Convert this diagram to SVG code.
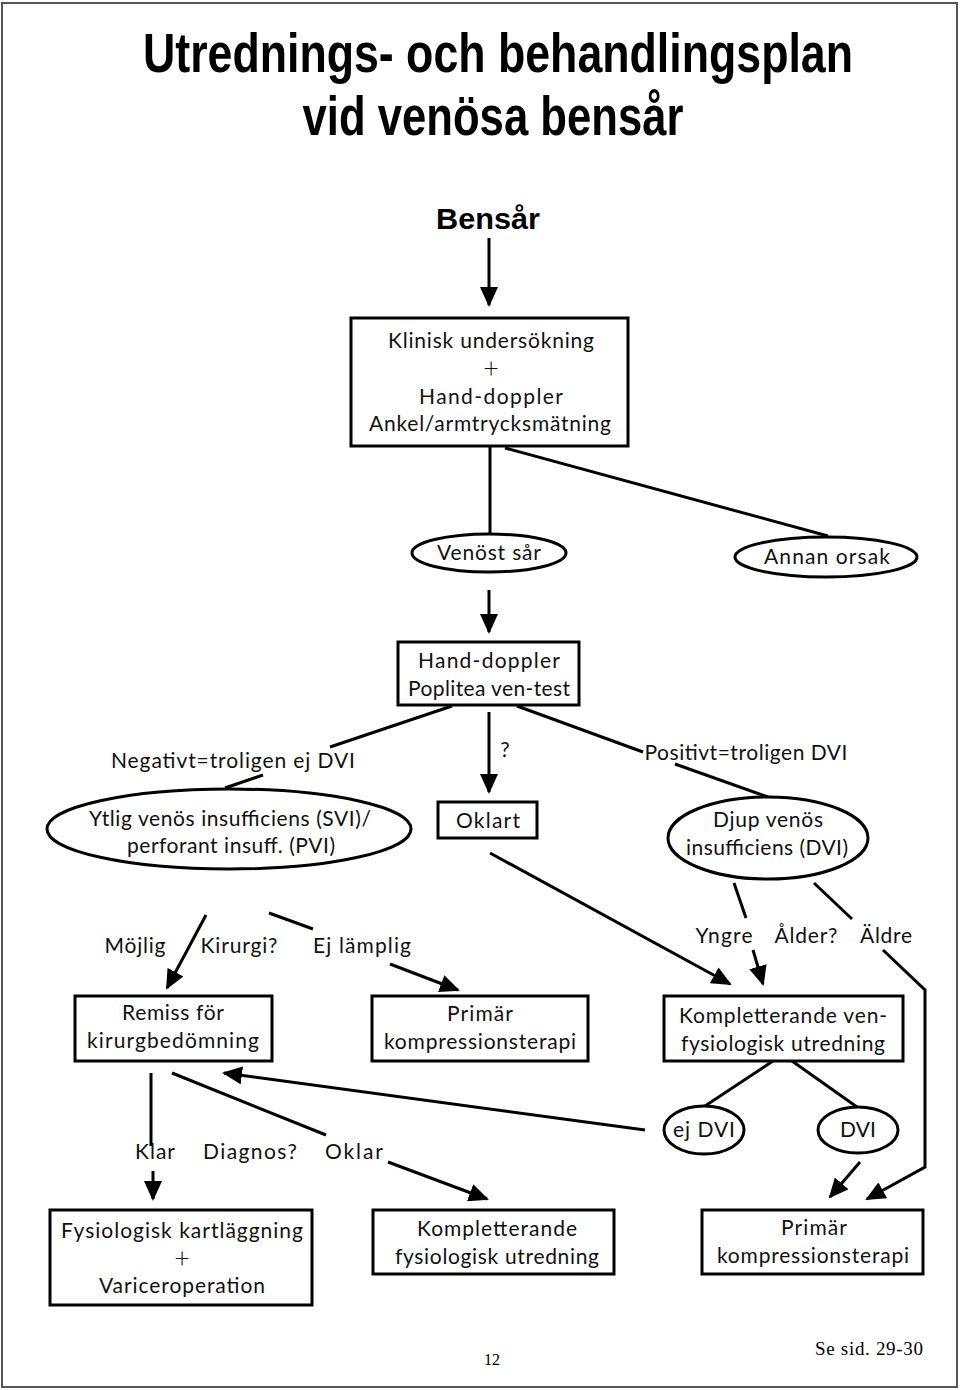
<svg xmlns="http://www.w3.org/2000/svg" width="960" height="1390" viewBox="0 0 960 1390">
<defs>
<style>
.t{font-family:Lato,"Liberation Sans",sans-serif;font-size:21px;fill:#111;text-anchor:middle}
.p{font-size:27px;font-weight:300}
.ti{font-family:"Liberation Sans",Arial,sans-serif;font-weight:bold;fill:#000;text-anchor:middle}
.f{font-family:"Liberation Serif","Times New Roman",serif;fill:#000;text-anchor:middle}
.b{fill:#fff;stroke:#000;stroke-width:3}
.c line,.c polyline{stroke:#000;stroke-width:3;fill:none}
.a{marker-end:url(#ah)}
</style>
<marker id="ah" viewBox="0 0 20 18" refX="18" refY="9" markerWidth="20" markerHeight="18" markerUnits="userSpaceOnUse" orient="auto">
<path d="M0,0 L20,9 L0,18 z" fill="#000"/>
</marker>
</defs>
<rect x="0" y="0" width="960" height="1390" fill="#fff"/>
<rect x="2" y="3" width="955" height="1384" fill="none" stroke="#555" stroke-width="2"/>

<g id="title">
<text class="ti" x="498" y="60" font-size="47" transform="scale(1,1.2)" textLength="710" lengthAdjust="spacingAndGlyphs">Utrednings- och behandlingsplan</text>
<text class="ti" x="493" y="112.5" font-size="47" transform="scale(1,1.2)" textLength="381" lengthAdjust="spacingAndGlyphs">vid venösa bensår</text>
</g>

<g id="bensar"><text class="ti" x="488" y="229" font-size="29" textLength="104" lengthAdjust="spacingAndGlyphs">Bensår</text></g>

<g class="c" id="connectors">
<line class="a" x1="489" y1="238" x2="489" y2="305"/>
<line x1="490" y1="446" x2="490" y2="535"/>
<line x1="505" y1="448" x2="828" y2="536"/>
<line class="a" x1="489" y1="590" x2="489" y2="632"/>
<line x1="452" y1="706" x2="330" y2="747"/>
<line x1="263" y1="775" x2="225" y2="788"/>
<line class="a" x1="489" y1="712" x2="489" y2="792"/>
<line x1="517" y1="706" x2="643" y2="752"/>
<line x1="675" y1="764" x2="768" y2="797"/>
<line class="a" x1="490" y1="853" x2="730" y2="984"/>
<line x1="734" y1="883" x2="746" y2="918"/>
<line class="a" x1="753" y1="950" x2="763" y2="984"/>
<line x1="814" y1="883" x2="852" y2="919"/>
<polyline class="a" points="883,950 925,990 925,1167 867,1199"/>
<line class="a" x1="206" y1="915" x2="167" y2="988"/>
<line x1="269" y1="913" x2="313" y2="929"/>
<line class="a" x1="390" y1="964" x2="458" y2="990"/>
<line x1="773" y1="1061" x2="705" y2="1106"/>
<line x1="792" y1="1061" x2="857" y2="1107"/>
<line class="a" x1="860" y1="1162" x2="830" y2="1197"/>
<line class="a" x1="645" y1="1130" x2="224" y2="1073"/>
<line x1="151" y1="1073" x2="151" y2="1146"/>
<line class="a" x1="153" y1="1171" x2="153" y2="1199"/>
<line x1="172" y1="1073" x2="326" y2="1135"/>
<line class="a" x1="388" y1="1162" x2="487" y2="1199"/>
</g>

<g id="klinisk">
<rect class="b" x="351" y="318" width="277" height="128"/>
<text class="t" x="491" y="348" textLength="206">Klinisk undersökning</text>
<text class="t p" x="491" y="378">+</text>
<text class="t" x="491" y="404" textLength="144">Hand-doppler</text>
<text class="t" x="490" y="431" textLength="242">Ankel/armtrycksmätning</text>
</g>

<g id="venost">
<ellipse class="b" cx="489" cy="553" rx="77" ry="19"/>
<text class="t" x="489" y="560" textLength="104">Venöst sår</text>
</g>

<g id="annan">
<ellipse class="b" cx="826" cy="557" rx="91" ry="20"/>
<text class="t" x="827" y="564" textLength="126">Annan orsak</text>
</g>

<g id="handdoppler">
<rect class="b" x="398" y="642" width="181" height="63"/>
<text class="t" x="489" y="668" textLength="142">Hand-doppler</text>
<text class="t" x="489" y="696" textLength="162">Poplitea ven-test</text>
</g>

<g id="labels">
<text class="t" x="233" y="768" textLength="244">Negativt=troligen ej DVI</text>
<text class="t" x="505" y="757">?</text>
<text class="t" x="746" y="760" textLength="203">Positivt=troligen DVI</text>
<text class="t" x="135" y="953" textLength="61">Möjlig</text>
<text class="t" x="239" y="953" textLength="77">Kirurgi?</text>
<text class="t" x="362" y="953" textLength="98">Ej lämplig</text>
<text class="t" x="724" y="943" textLength="57">Yngre</text>
<text class="t" x="806" y="943" textLength="63">Ålder?</text>
<text class="t" x="886" y="943" textLength="52">Äldre</text>
<text class="t" x="155" y="1159" textLength="40">Klar</text>
<text class="t" x="250" y="1159" textLength="94">Diagnos?</text>
<text class="t" x="354" y="1159" textLength="58">Oklar</text>
</g>

<g id="svi">
<ellipse class="b" cx="229" cy="829" rx="182" ry="40"/>
<text class="t" x="230" y="826" textLength="282">Ytlig venös insufficiens (SVI)/</text>
<text class="t" x="231" y="853" textLength="208">perforant insuff. (PVI)</text>
</g>

<g id="oklart">
<rect class="b" x="438" y="802" width="99" height="36"/>
<text class="t" x="488" y="828" textLength="64">Oklart</text>
</g>

<g id="dvi-ellipse">
<ellipse class="b" cx="768" cy="838" rx="100" ry="41"/>
<text class="t" x="768" y="827" textLength="110">Djup venös</text>
<text class="t" x="767" y="855" textLength="162">insufficiens (DVI)</text>
</g>

<g id="remiss">
<rect class="b" x="75" y="996" width="197" height="65"/>
<text class="t" x="173" y="1020" textLength="102">Remiss för</text>
<text class="t" x="173" y="1048" textLength="172">kirurgbedömning</text>
</g>

<g id="primar1">
<rect class="b" x="372" y="996" width="216" height="65"/>
<text class="t" x="480" y="1021" textLength="66">Primär</text>
<text class="t" x="480" y="1049" textLength="192">kompressionsterapi</text>
</g>

<g id="kompl-ven">
<rect class="b" x="664" y="996" width="239" height="65"/>
<text class="t" x="783" y="1023" textLength="208">Kompletterande ven-</text>
<text class="t" x="783" y="1051" textLength="204">fysiologisk utredning</text>
</g>

<g id="ejdvi">
<ellipse class="b" cx="704" cy="1130" rx="40" ry="24"/>
<text class="t" x="704" y="1137" textLength="62">ej DVI</text>
</g>

<g id="dvi">
<ellipse class="b" cx="858" cy="1130" rx="40" ry="23"/>
<text class="t" x="858" y="1137" textLength="36">DVI</text>
</g>

<g id="fysiologisk">
<rect class="b" x="50" y="1210" width="262" height="95"/>
<text class="t" x="182" y="1238" textLength="242">Fysiologisk kartläggning</text>
<text class="t p" x="182" y="1268">+</text>
<text class="t" x="182" y="1293" textLength="166">Variceroperation</text>
</g>

<g id="kompl-fys">
<rect class="b" x="373" y="1210" width="241" height="64"/>
<text class="t" x="497" y="1236" textLength="160">Kompletterande</text>
<text class="t" x="497" y="1264" textLength="204">fysiologisk utredning</text>
</g>

<g id="primar2">
<rect class="b" x="702" y="1210" width="221" height="64"/>
<text class="t" x="814" y="1235" textLength="66">Primär</text>
<text class="t" x="813" y="1263" textLength="192">kompressionsterapi</text>
</g>

<g id="footer">
<text class="f" x="492" y="1365" font-size="16">12</text>
<text class="f" x="869" y="1355" font-size="19" textLength="108">Se sid. 29-30</text>
</g>
</svg>
